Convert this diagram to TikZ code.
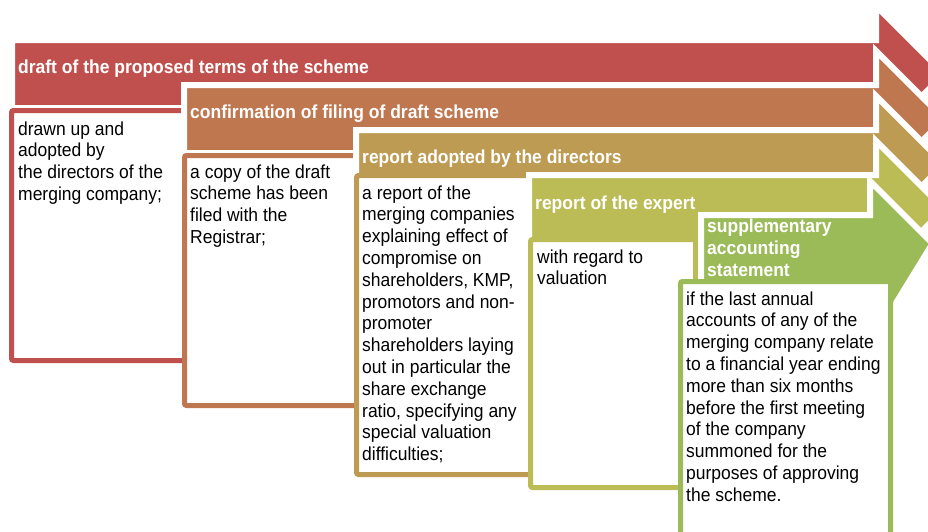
\documentclass[tikz,border=0pt]{standalone}
\usepackage{fontspec}
\setmainfont{Liberation Sans}[FakeStretch=0.93]
\definecolor{stepred}{HTML}{C0504D}
\definecolor{steporange}{HTML}{BF7750}
\definecolor{stepgold}{HTML}{BD9B53}
\definecolor{steplime}{HTML}{BBBC56}
\definecolor{stepgreen}{HTML}{9BBB59}
\tikzset{
  banner/.style = {draw=white, line width=6pt, line join=miter},
  notebox/.style = {fill=white, line width=5pt, rounded corners=2pt},
  steptitle/.style = {anchor=base west, inner sep=0pt, align=left, text=white, font=\bfseries\fontsize{18.8}{21.8}\selectfont},
  steptext/.style = {anchor=base west, inner sep=0pt, align=left, font=\fontsize{18.8}{21.8}\selectfont}
}
\newcommand{\banner}[3]{\draw[banner, fill=#1] (#2,#3) -- (876,#3) -- (876,#3-34) -- (944,#3+34) -- (876,#3+102) -- (876,#3+68) -- (#2,#3+68) -- cycle;}
\begin{document}
\begin{tikzpicture}[x=1pt, y=-1pt]
            \useasboundingbox (0,0) rectangle (928,531);
            \banner{stepred}{12}{40}
            \draw[notebox, draw=stepred] (11.5,110.5) rectangle (186,360.5);
            \banner{steporange}{184}{85}
            \draw[notebox, draw=steporange] (184.5,155.5) rectangle (358,405.5);
            \banner{stepgold}{356}{130}
            \draw[notebox, draw=stepgold] (356.5,175.5) rectangle (531,474.5);
            \banner{steplime}{529}{175}
            \draw[notebox, draw=steplime] (530.5,239.5) rectangle (695.5,487.5);
            \draw[banner, fill=stepgreen] (701,215) -- (870,215) -- (870,181) -- (932.5,243.5) -- (873,340.5) -- (701,340.5) -- cycle;
            \draw[notebox, draw=stepgreen] (680.5,281.5) rectangle (890.5,560);
            \node[steptitle] (draft) at (18,73) {draft of the proposed terms of the scheme};
            \node[steptitle] (filing) at (190,118) {confirmation of filing of draft scheme};
            \node[steptitle] (directors) at (362,163) {report adopted by the directors};
            \node[steptitle] (expert) at (535,209) {report of the expert};
            \begin{scope}
                \clip (700,218) rectangle (868,300);
                \node[steptitle] (statement) at (707,276.1) {supplementary\\accounting\\statement};
            \end{scope}
            \node[steptext] (drawn) at (18,200.4) {drawn up and\\adopted by\\the directors of the\\merging company;};
            \node[steptext] (copy) at (190,243.4) {a copy of the draft\\scheme has been\\filed with the\\Registrar;};
            \node[steptext] (report) at (362,460.6) {a report of the\\merging companies\\explaining effect of\\compromise on\\shareholders, KMP,\\promotors and non-\\promoter\\shareholders laying\\out in particular the\\share exchange\\ratio, specifying any\\special valuation\\difficulties;};
            \node[steptext] (valuation) at (537,284.8) {with regard to\\valuation};
            \node[steptext] (accounts) at (686,501.2) {if the last annual\\accounts of any of the\\merging company relate\\to a financial year ending\\more than six months\\before the first meeting\\of the company\\summoned for the\\purposes of approving\\the scheme.};
        \end{tikzpicture}
\end{document}
